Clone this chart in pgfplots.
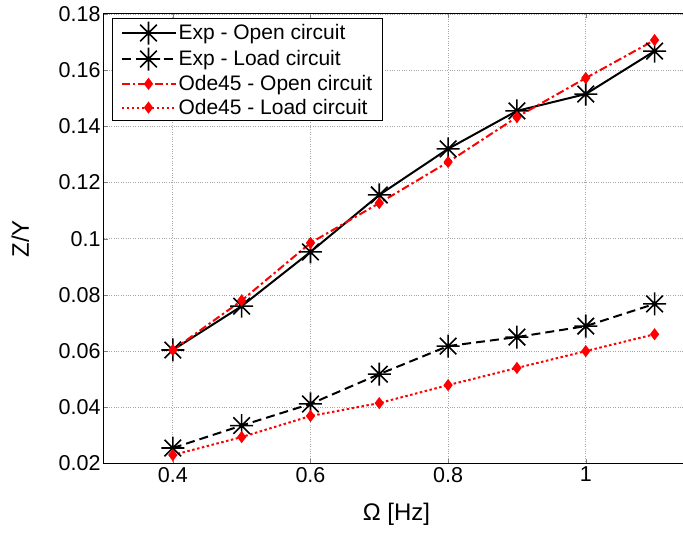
\documentclass[border=0pt]{standalone}
\usepackage{fontspec}
\setmainfont{Liberation Sans}
\usepackage{pgfplots}
\pgfplotsset{compat=1.18}
\pgfdeclareplotmark{mstar}{%
  \pgfpathmoveto{\pgfqpoint{-\pgfplotmarksize}{0pt}}\pgfpathlineto{\pgfqpoint{\pgfplotmarksize}{0pt}}%
  \pgfpathmoveto{\pgfqpoint{0pt}{-\pgfplotmarksize}}\pgfpathlineto{\pgfqpoint{0pt}{\pgfplotmarksize}}%
  \pgfpathmoveto{\pgfqpoint{-0.72\pgfplotmarksize}{-0.72\pgfplotmarksize}}\pgfpathlineto{\pgfqpoint{0.72\pgfplotmarksize}{0.72\pgfplotmarksize}}%
  \pgfpathmoveto{\pgfqpoint{-0.72\pgfplotmarksize}{0.72\pgfplotmarksize}}\pgfpathlineto{\pgfqpoint{0.72\pgfplotmarksize}{-0.72\pgfplotmarksize}}%
  \pgfusepathqstroke}
\begin{document}
\begin{tikzpicture}[x=1pt,y=1pt]
\useasboundingbox (0,0) rectangle (683,534);
\begin{axis}[
  at={(104pt,70.5pt)}, anchor=south west,
  scale only axis, width=585pt, height=449.5pt,
  xmin=0.3, xmax=1.15, ymin=0.02, ymax=0.18,
  xtick={0.4,0.6,0.8,1},
  ytick={0.02,0.04,0.06,0.08,0.1,0.12,0.14,0.16,0.18},
  /pgf/number format/assume math mode=true,
  /pgf/number format/fixed, /pgf/number format/precision=2,
  tick label style={font=\fontsize{21.5}{26}\selectfont},
  label style={font=\fontsize{24}{28}\selectfont},
  xlabel={Ω [Hz]}, ylabel={Z/Y},
  ylabel style={at={(axis description cs:-0.143,0.5)}, anchor=center},
  xlabel style={at={(axis description cs:0.5,0)}, anchor=center, yshift=-51pt},
  tick align=inside, major tick length=4pt,
  axis line style={line width=1pt},
  grid=major, major grid style={gray!70, dotted, line width=0.7pt},
  legend style={at={(axis description cs:0.0137,0.991)}, anchor=north west,
    font=\fontsize{21}{25}\selectfont, draw=black, line width=1pt,
    cells={anchor=west}, row sep=3pt, inner xsep=8pt, inner ysep=3pt},
  legend cell align=left,
  legend image code/.code={\draw[mark repeat=2, mark phase=2, #1] plot coordinates {(0pt,0pt) (27pt,0pt) (54pt,0pt)};},
]
\addplot[black, line width=2pt, mark=mstar, mark size=11.5pt, mark options={solid, line width=1.6pt}]
  coordinates {(0.4,0.0604) (0.5,0.076) (0.6,0.0953) (0.7,0.1156) (0.8,0.132) (0.9,0.1455) (1.0,0.1515) (1.1,0.1668)};
\addlegendentry{Exp - Open circuit}
\addplot[black, line width=2pt, dash pattern=on 9pt off 5pt, mark=mstar, mark size=11.5pt, mark options={solid, line width=1.6pt}]
  coordinates {(0.4,0.0255) (0.5,0.0335) (0.6,0.0412) (0.7,0.0518) (0.8,0.0618) (0.9,0.065) (1.0,0.0689) (1.1,0.0768)};
\addlegendentry{Exp - Load circuit}
\addplot[red, line width=2pt, dash pattern=on 8pt off 3pt on 2.5pt off 3pt, mark=diamond*, mark size=4.5pt, mark options={solid}]
  coordinates {(0.4,0.0604) (0.5,0.078) (0.6,0.0985) (0.7,0.1127) (0.8,0.1273) (0.9,0.1433) (1.0,0.1572) (1.1,0.1707)};
\addlegendentry{Ode45 - Open circuit}
\addplot[red, line width=2pt, dash pattern=on 2.5pt off 2.5pt, mark=diamond*, mark size=4.5pt, mark options={solid}]
  coordinates {(0.4,0.023) (0.5,0.0294) (0.6,0.0369) (0.7,0.0415) (0.8,0.0479) (0.9,0.054) (1.0,0.060) (1.1,0.066)};
\addlegendentry{Ode45 - Load circuit}
\end{axis}
\end{tikzpicture}
\end{document}
